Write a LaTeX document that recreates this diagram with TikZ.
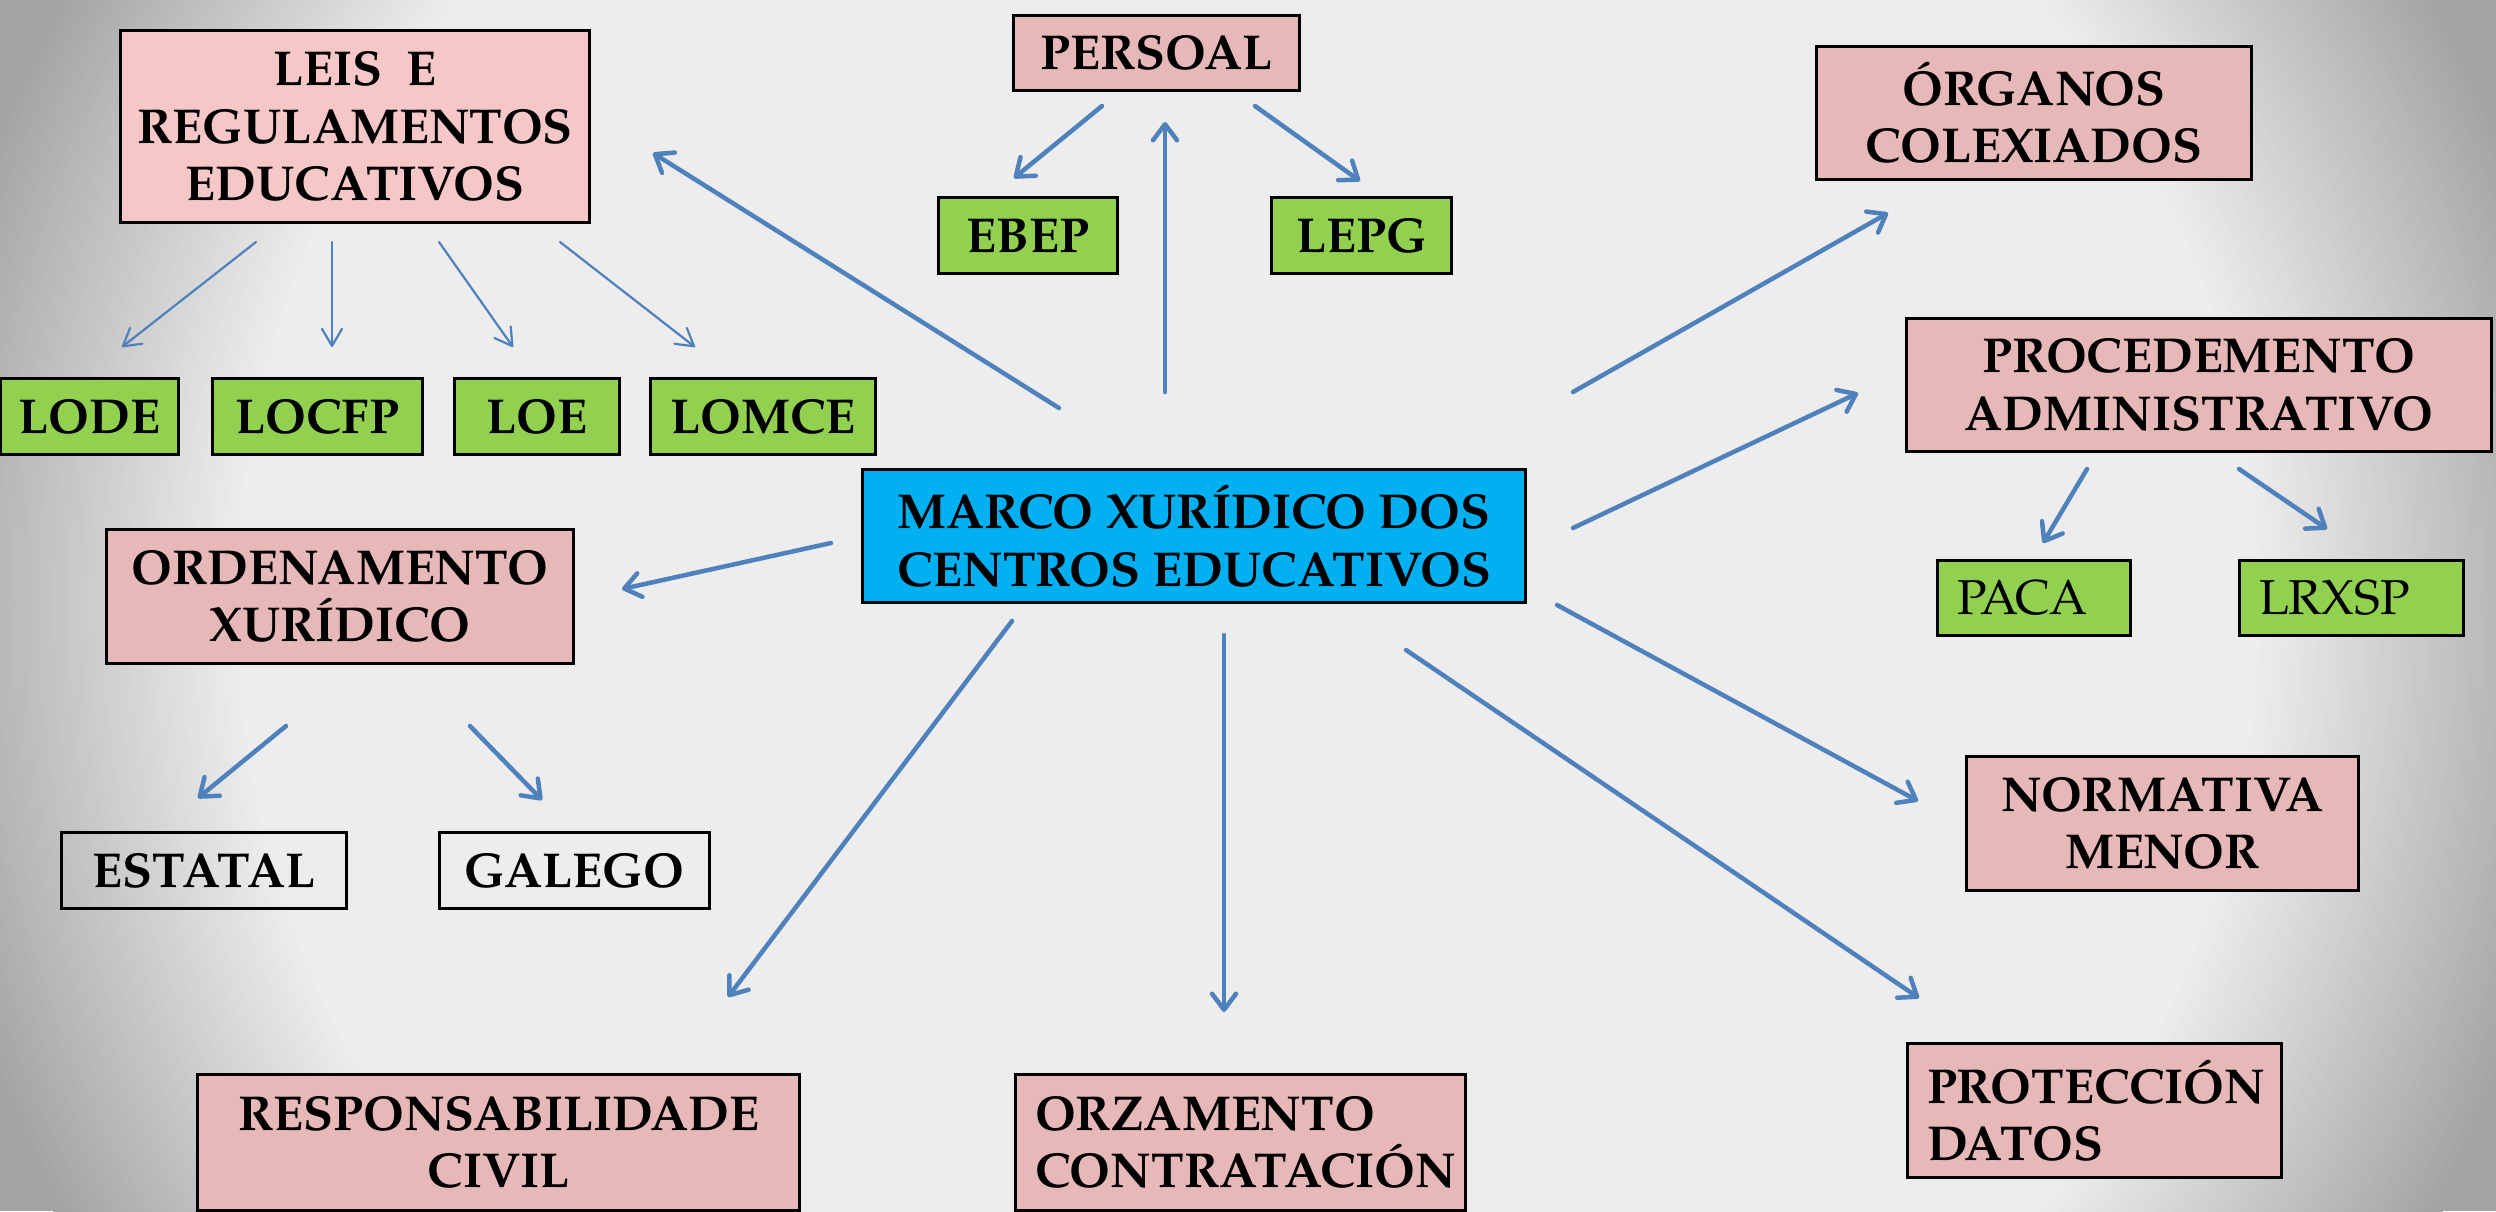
\documentclass[tikz,border=0pt]{standalone}
\usepackage{fontspec}
\setmainfont{texgyrepagella}[Extension=.otf, UprightFont=*-regular, BoldFont=*-bold, ItalicFont=*-italic, BoldItalicFont=*-bolditalic]
\usetikzlibrary{arrows.meta}
\definecolor{bgl}{HTML}{EDEDED}
\definecolor{bgd}{HTML}{A3A3A3}
\definecolor{pinkc}{HTML}{E6B8B7}
\definecolor{lpinkc}{HTML}{F5C7C7}
\definecolor{greenc}{HTML}{92D050}
\definecolor{bluec}{HTML}{00B0F0}
\definecolor{arrowc}{HTML}{4F81BD}
\tikzset{
  box/.style={draw=black, line width=3.5pt, inner sep=0pt, align=center,
    font=\bfseries\fontsize{49}{57.5}\selectfont},
  pinkbox/.style={box, fill=pinkc},
  lpinkbox/.style={box, fill=lpinkc},
  greenbox/.style={box, fill=greenc},
  bluebox/.style={box, fill=bluec},
  plainbox/.style={box},
  leftbox/.style={align=left},
  regfont/.style={font=\fontsize{49}{57.5}\selectfont},
  arr/.style={draw=arrowc, line width=4.5pt, line cap=round,
    -{Straight Barb[length=16pt,width=24pt,round]}},
  thinarr/.style={draw=arrowc, line width=2.2pt, line cap=round,
    -{Straight Barb[length=17pt,width=20pt,round]}},
}
\begin{document}
\begin{tikzpicture}[x=1pt,y=-1pt]
\useasboundingbox (0,0) rectangle (2496,1211);
\begin{scope}
  \clip (0,0) rectangle (2496,1211);
  \fill[bgd] (0,0) rectangle (2496,1211);
  \foreach \i in {0,...,48} {
    \pgfmathsetmacro\rr{1-0.25*\i/48}
    \pgfmathsetmacro\rx{1350*\rr}
    \pgfmathsetmacro\ry{1300*\rr}
    \pgfmathsetmacro\pp{100*(1-\i/48)}
    \fill[bgd!\pp!bgl] (1248,605.5) ellipse [x radius=\rx pt, y radius=\ry pt];
  }
\end{scope}

% boxes
\node[lpinkbox, minimum width=469pt, minimum height=192pt] (leis) at (355,126.5) {LEIS\ \ E\\REGULAMENTOS\\EDUCATIVOS};
\node[pinkbox, minimum width=286pt, minimum height=75pt] (persoal) at (1156.5,53) {PERSOAL};
\node[greenbox, minimum width=179pt, minimum height=76pt] (ebep) at (1028,235.5) {EBEP};
\node[greenbox, minimum width=180pt, minimum height=76pt] (lepg) at (1361.5,235.5) {LEPG};
\node[pinkbox, minimum width=435pt, minimum height=133pt] (organos) at (2034,113) {ÓRGANOS\\COLEXIADOS};
\node[pinkbox, minimum width=585pt, minimum height=133pt] (proc) at (2199,385) {PROCEDEMENTO\\ADMINISTRATIVO};
\node[greenbox, regfont, leftbox, minimum height=75pt, text width=154pt, minimum width=193pt] (paca) at (2034,598) {PACA};
\node[greenbox, regfont, leftbox, minimum height=75pt, text width=185pt, minimum width=224pt] (lrxsp) at (2351.5,598) {LRXSP};
\node[bluebox, minimum width=663pt, minimum height=133pt] (marco) at (1194,536) {MARCO XURÍDICO DOS\\CENTROS EDUCATIVOS};
\node[pinkbox, minimum width=467pt, minimum height=134pt] (ord) at (340,596.5) {ORDENAMENTO\\XURÍDICO};
\node[plainbox, minimum width=285pt, minimum height=76pt] (estatal) at (204,870.5) {ESTATAL};
\node[plainbox, minimum width=270pt, minimum height=76pt] (galego) at (574.5,870.5) {GALEGO};
\node[greenbox, minimum width=178pt, minimum height=76pt] (lode) at (89.5,416.5) {LODE};
\node[greenbox, minimum width=210pt, minimum height=76pt] (locfp) at (317.5,416.5) {LOCFP};
\node[greenbox, minimum width=165pt, minimum height=76pt] (loe) at (537,416.5) {LOE};
\node[greenbox, minimum width=225pt, minimum height=76pt] (lomce) at (763,416.5) {LOMCE};
\node[pinkbox, minimum width=392pt, minimum height=134pt] (norm) at (2162.5,823.5) {NORMATIVA\\MENOR};
\node[pinkbox, minimum width=602pt, minimum height=136pt] (resp) at (498.5,1142.5) {RESPONSABILIDADE\\CIVIL};
\node[pinkbox, leftbox, minimum width=450pt, minimum height=136pt, text width=411pt] (orz) at (1240.5,1142.5) {ORZAMENTO\\CONTRATACIÓN};
\node[pinkbox, leftbox, minimum width=374pt, minimum height=134pt, text width=335pt] (prot) at (2094.5,1110.5) {PROTECCIÓN\\DATOS};

% connector end points
\coordinate (s1) at (1059,408);  \coordinate (t1) at (653,153);
\coordinate (s2) at (1165,392);  \coordinate (t2) at (1165,122);
\coordinate (s3) at (1102,106);  \coordinate (t3) at (1014,178);
\coordinate (s4) at (1255,106);  \coordinate (t4) at (1360,181);
\coordinate (s5) at (1573,392);  \coordinate (t5) at (1888,213);
\coordinate (s6) at (1573,528);  \coordinate (t6) at (1858,393);
\coordinate (s7) at (2087,469);  \coordinate (t7) at (2043,543);
\coordinate (s8) at (2239,469);  \coordinate (t8) at (2327,529);
\coordinate (s9) at (1557,605);  \coordinate (t9) at (1918,801);
\coordinate (s10) at (1406,650); \coordinate (t10) at (1919,998);
\coordinate (s11) at (1224,635); \coordinate (t11) at (1224,1012);
\coordinate (s12) at (1012,621); \coordinate (t12) at (728,997);
\coordinate (s13) at (831,543);  \coordinate (t13) at (622,589);
\coordinate (s14) at (286,726);  \coordinate (t14) at (198,798);
\coordinate (s15) at (470,726);  \coordinate (t15) at (542,800);
\coordinate (u1) at (256,242);   \coordinate (v1) at (122,347);
\coordinate (u2) at (332,242);   \coordinate (v2) at (332,347);
\coordinate (u3) at (439,242);   \coordinate (v3) at (513,347);
\coordinate (u4) at (560,242);   \coordinate (v4) at (695,347);

\draw[arr] (s1) -- (t1);
\draw[arr] (s2) -- (t2);
\draw[arr] (s3) -- (t3);
\draw[arr] (s4) -- (t4);
\draw[arr] (s5) -- (t5);
\draw[arr] (s6) -- (t6);
\draw[arr] (s7) -- (t7);
\draw[arr] (s8) -- (t8);
\draw[arr] (s9) -- (t9);
\draw[arr] (s10) -- (t10);
\draw[arr] (s11) -- (t11);
\draw[arr] (s12) -- (t12);
\draw[arr] (s13) -- (t13);
\draw[arr] (s14) -- (t14);
\draw[arr] (s15) -- (t15);
\draw[thinarr] (u1) -- (v1);
\draw[thinarr] (u2) -- (v2);
\draw[thinarr] (u3) -- (v3);
\draw[thinarr] (u4) -- (v4);
\end{tikzpicture}
\end{document}
